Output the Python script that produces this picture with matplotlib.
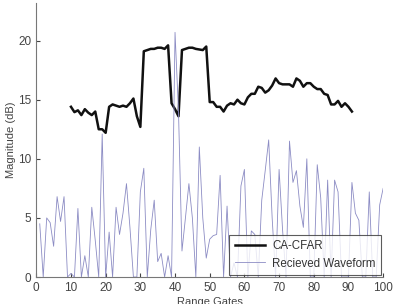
import numpy as np
import matplotlib
matplotlib.use('Agg')
import matplotlib.pyplot as plt

plt.rcParams['font.family'] = ['Liberation Sans', 'DejaVu Sans']

# received waveform, range gates 1..100
gates = np.arange(1, 101)
waveform = [4.5, 0, 5.0, 4.6, 2.6, 6.8, 4.7, 6.8, 0, 0.3,
            0, 5.8, 0, 1.8, 0, 5.9, 3.1, 0, 12.1, 0,
            3.8, 0, 5.9, 3.6, 5.4, 7.9, 4.2, 0, 0, 7.2,
            9.2, 0, 4.0, 6.5, 1.3, 2.0, 0, 1.8, 0, 20.7,
            14.0, 2.2, 5.0, 7.9, 5.0, 0, 11.0, 5.0, 1.6, 3.2,
            3.5, 3.6, 8.6, 0, 6.0, 0, 1.2, 0, 7.7, 9.1,
            0, 3.9, 3.6, 0, 6.5, 9.0, 11.6, 5.0, 0, 9.1,
            4.0, 0, 11.5, 8.0, 9.0, 6.0, 4.2, 10.0, 0, 0,
            9.5, 6.7, 0, 8.2, 0, 8.2, 7.2, 0, 0, 0,
            8.0, 5.4, 4.8, 0, 0, 7.2, 0, 0, 6.1, 7.5]

# CA-CFAR threshold, gates 10..91
cfar_gates = np.arange(10, 92)
cfar = [14.4, 13.95, 14.1, 13.7, 14.2, 13.9, 13.7, 14.0, 12.5, 12.5,
        12.2, 14.4, 14.6, 14.5, 14.4, 14.5, 14.4, 14.7, 15.1, 13.6,
        12.7, 19.1, 19.2, 19.3, 19.3, 19.4, 19.4, 19.3, 19.6, 14.7,
        14.2, 13.6, 19.2, 19.3, 19.4, 19.4, 19.3, 19.25, 19.2, 19.5,
        14.8, 14.8, 14.4, 14.4, 14.0, 14.5, 14.7, 14.6, 15.0, 14.7,
        14.6, 15.2, 15.5, 15.5, 16.1, 16.0, 15.6, 15.8, 16.2, 16.8,
        16.4, 16.3, 16.3, 16.3, 16.1, 16.8, 16.6, 16.1, 16.4, 16.4,
        16.1, 15.9, 15.9, 15.5, 15.4, 14.6, 14.6, 14.9, 14.4, 14.7,
        14.4, 14.0]

fig = plt.figure(figsize=(3.97, 3.04), dpi=100)
ax = fig.add_axes([0.0914, 0.0888, 0.8737, 0.902])

ax.plot(cfar_gates, cfar, color='#111111', lw=1.8, label='CA-CFAR')
ax.plot(gates, waveform, color='#8c8cc4', lw=0.6, label='Recieved Waveform')

ax.set_xlim(0, 100)
ax.set_ylim(0, 23.2)
ax.set_xticks(np.arange(0, 101, 10))
ax.set_yticks([0, 5, 10, 15, 20])
ax.tick_params(direction='in', labelsize=8.5, colors='#444444', length=3)
for s in ['top', 'right']:
    ax.spines[s].set_visible(False)
for s in ['left', 'bottom']:
    ax.spines[s].set_color('#777777')

ax.set_xlabel('Range Gates', fontsize=8, color='#444444', labelpad=2)
ax.set_ylabel('Magnitude (dB)', fontsize=8, color='#444444')
ax.yaxis.set_label_coords(-0.058, 0.5)

leg = ax.legend(loc='lower right', fontsize=8.3, frameon=True, fancybox=False,
                edgecolor='#333333', borderaxespad=0.15, handlelength=2.6,
                labelspacing=0.45, borderpad=0.5, handletextpad=0.6)
leg.get_frame().set_linewidth(0.8)
for t in leg.get_texts():
    t.set_color('#333333')

fig.savefig('out.png', dpi=100)
